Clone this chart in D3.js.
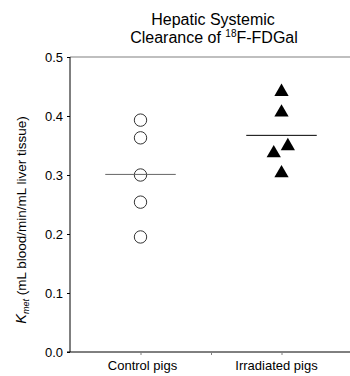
<!DOCTYPE html>
<html><head><meta charset="utf-8">
<script src="https://cdn.jsdelivr.net/npm/d3@7"></script>
<style>body{margin:0;background:#fff}svg{display:block}text{font-family:"Liberation Sans",Arial,sans-serif}</style>
</head><body><svg id="c" width="350" height="376"></svg>
<script>
const categories = ["Control pigs", "Irradiated pigs"];
const categoryPos = [1, 3];
const controlValues = [0.393, 0.363, 0.300, 0.254, 0.195];
const controlOffsets = [0, 0, 0, 0, 0];
const irradiatedValues = [0.441, 0.406, 0.349, 0.337, 0.303];
const irradiatedOffsets = [0, 0, 0.09, -0.11, 0];
const yTicks = [0.0, 0.1, 0.2, 0.3, 0.4, 0.5];
const xTicks = [1, 2, 3];
const titleLines = ["Hepatic Systemic", "Clearance of "];

const svg = d3.select("#c");
const x = d3.scaleLinear().domain([0, 4]).range([70, 352]);
const y = d3.scaleLinear().domain([0, 0.5]).range([352, 57]);

// top frame line
svg.append("line").attr("x1", x(0)).attr("x2", 350).attr("y1", y(0.5)).attr("y2", y(0.5))
  .attr("stroke", "#808080").attr("stroke-width", 1.2);

// y axis
const ya = svg.append("g").attr("transform", `translate(${x(0)},0)`)
  .call(d3.axisLeft(y).tickValues(yTicks).tickFormat(d3.format(".1f")).tickSize(3).tickPadding(4));
ya.select(".domain").attr("stroke", "#000").attr("d", `M0,${y(0)}V${y(0.5)}`);
ya.selectAll(".tick line").attr("stroke", "#000");
ya.selectAll("text").attr("font-size", 13).attr("fill", "#000").attr("font-family", "Liberation Sans, Arial, sans-serif");

// x axis
const xa = svg.append("g").attr("transform", `translate(0,${y(0)})`)
  .call(d3.axisBottom(x).tickValues(xTicks).tickFormat("").tickSize(3));
xa.select(".domain").attr("stroke", "#000").attr("d", `M${x(0)-3},0H350`);
xa.selectAll(".tick line").attr("stroke", "#808080");

svg.selectAll(".xlab").data(categories).enter().append("text")
  .attr("x", (d, i) => x(categoryPos[i]) + (i === 0 ? 2 : -5)).attr("y", 370)
  .attr("text-anchor", "middle").attr("font-size", 13).text(d => d);

// control circles
svg.selectAll(".ctl").data(controlValues).enter().append("circle")
  .attr("cx", (d, i) => x(categoryPos[0] + controlOffsets[i]))
  .attr("cy", d => y(d)).attr("r", 6.2)
  .attr("fill", "none").attr("stroke", "#333").attr("stroke-width", 1);

// irradiated triangles
const tri = d3.symbol().type(d3.symbolTriangle).size(88);
svg.selectAll(".irr").data(irradiatedValues).enter().append("path")
  .attr("d", tri)
  .attr("transform", (d, i) => `translate(${x(categoryPos[1] + irradiatedOffsets[i])},${y(d)})`)
  .attr("fill", "#000");

// mean lines
const means = [d3.mean(controlValues), d3.mean(irradiatedValues)];
svg.selectAll(".mean").data(means).enter().append("line")
  .attr("x1", (d, i) => x(categoryPos[i] - 0.5)).attr("x2", (d, i) => x(categoryPos[i] + 0.5))
  .attr("y1", d => y(d)).attr("y2", d => y(d))
  .attr("stroke", (d, i) => i === 0 ? "#666" : "#000").attr("stroke-width", 1);

// title
svg.append("text").attr("x", 213).attr("y", 25).attr("text-anchor", "middle")
  .attr("font-size", 16).text(titleLines[0]);
const t2 = svg.append("text").attr("x", 214).attr("y", 43).attr("text-anchor", "middle").attr("font-size", 16);
t2.append("tspan").text(titleLines[1]);
t2.append("tspan").attr("font-size", 10).attr("dy", -6).text("18");
t2.append("tspan").attr("dy", 6).text("F-FDGal");

// y label
const yl = svg.append("text").attr("transform", "translate(26,220) rotate(-90)")
  .attr("text-anchor", "middle").attr("font-size", 13.5);
yl.append("tspan").attr("font-style", "italic").attr("font-size", 14.5).text("K");
yl.append("tspan").attr("font-style", "italic").attr("font-size", 9).attr("dy", 3).text("met");
yl.append("tspan").attr("dy", -3).text(" (mL blood/min/mL liver tissue)");
</script></body></html>
